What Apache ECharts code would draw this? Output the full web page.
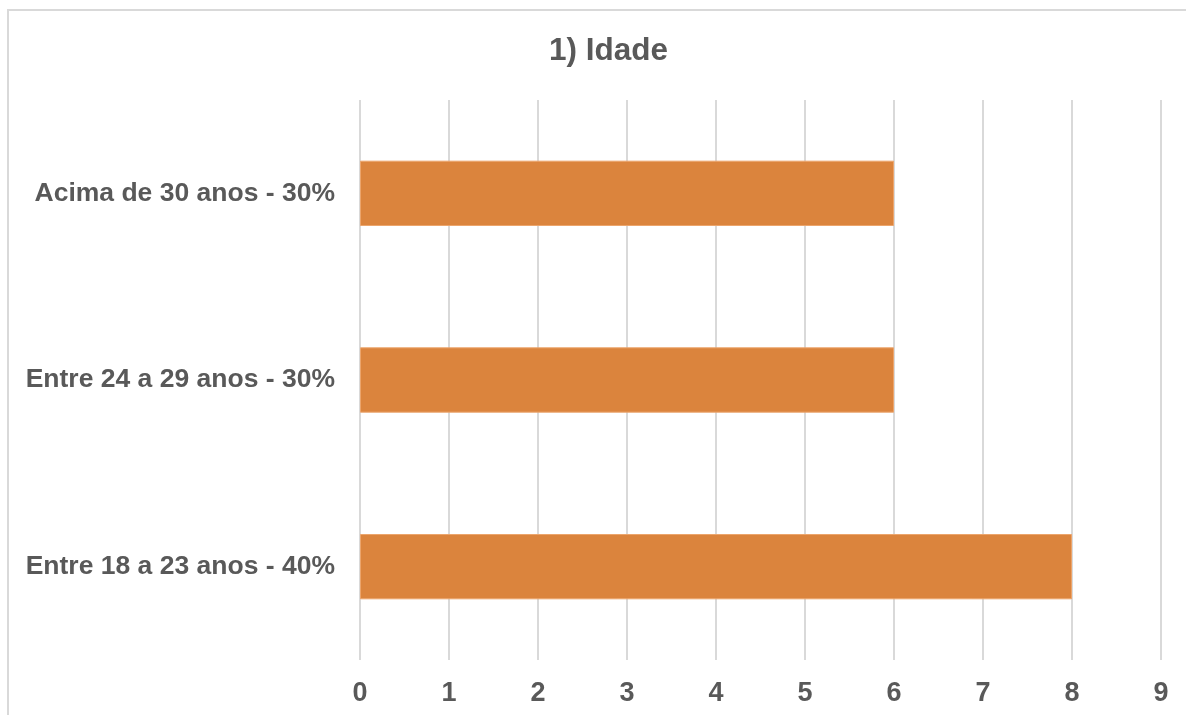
<!DOCTYPE html>
<html>
<head>
<meta charset="utf-8">
<script src="https://cdn.jsdelivr.net/npm/echarts@6/dist/echarts.min.js"></script>
<style>
  html, body { margin: 0; padding: 0; width: 1186px; height: 715px; overflow: hidden; background: #fff; }
  .edge { position: absolute; background: #d9d9d9; }
  #edgeTop { left: 7px; top: 9px; width: 1179px; height: 2px; }
  #edgeLeft { left: 7px; top: 9px; width: 2px; height: 706px; }
  #chart { position: absolute; left: 0; top: 0; width: 1186px; height: 715px; }
</style>
</head>
<body>
<div class="edge" id="edgeTop"></div>
<div class="edge" id="edgeLeft"></div>
<div id="chart"></div>
<script>
const categories = ['Entre 18 a 23 anos - 40%', 'Entre 24 a 29 anos - 30%', 'Acima de 30 anos - 30%']
const values = [8, 6, 6]
const xTicks = [0, 9, 1]

const chart = echarts.init(document.getElementById('chart'))
const textColor = '#595959'
chart.setOption({
  animation: false,
  title: {
    text: '1) Idade',
    left: 544,
    top: 30,
    textStyle: { fontFamily: 'Liberation Sans, Arial', fontWeight: 'bold', fontSize: 31.5, color: textColor }
  },
  grid: { left: 360, right: 25, top: 100, bottom: 55 },
  xAxis: {
    type: 'value',
    min: xTicks[0],
    max: xTicks[1],
    interval: xTicks[2],
    axisLine: { show: false },
    axisTick: { show: false },
    splitLine: { show: true, lineStyle: { color: '#d9d9d9', width: 2 } },
    axisLabel: { margin: 20, color: textColor, fontFamily: 'Liberation Sans, Arial', fontWeight: 'bold', fontSize: 27 }
  },
  yAxis: {
    type: 'category',
    data: categories,
    axisLine: { show: false },
    axisTick: { show: false },
    axisLabel: { margin: 25, color: textColor, fontFamily: 'Liberation Sans, Arial', fontWeight: 'bold', fontSize: 26.5 }
  },
  series: [
    {
      type: 'bar',
      data: values,
      barWidth: '35%',
      itemStyle: { color: '#db843d', borderColor: '#eca56c', borderWidth: 1 }
    }
  ]
})
</script>
</body>
</html>
